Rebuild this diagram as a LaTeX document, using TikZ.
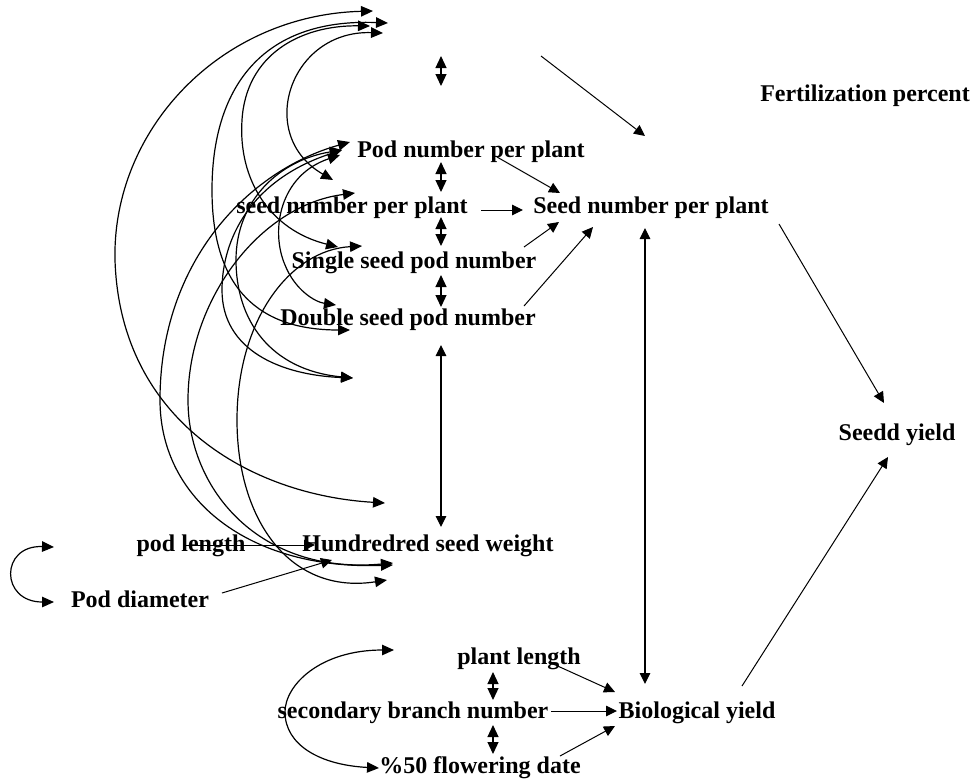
\documentclass[tikz,border=0pt]{standalone}
\usepackage{fontspec}
\setmainfont{Liberation Serif}
\usetikzlibrary{arrows.meta}
\begin{document}
\begin{tikzpicture}[x=1pt,y=-1pt,
  lbl/.style={font=\fontsize{24}{26}\selectfont\bfseries, inner sep=0pt, anchor=base},
  con/.style={line width=1pt, -{Triangle[length=11pt,width=10.5pt]}},
  bicon/.style={line width=1.2pt, {Triangle[length=11pt,width=10.5pt]}-{Triangle[length=11pt,width=10.5pt]}},
  shortbi/.style={line width=1.2pt, {Triangle[length=12pt,width=11pt]}-{Triangle[length=12pt,width=11pt]}},
  arc/.style={line width=1.2pt, {Triangle[length=12pt,width=10.5pt]}-{Triangle[length=12pt,width=10.5pt]}}]
\useasboundingbox (0,0) rectangle (974,780);

% text nodes
\node[lbl] (fert) at (865,101) {Fertilization percent};
\node[lbl] (pod) at (471,157) {Pod number per plant};
\node[lbl] (seedL) at (352,213) {seed number per plant};
\node[lbl] (seedR) at (651,213) {Seed number per plant};
\node[lbl] (single) at (414,268) {Single seed pod number};
\node[lbl] (double) at (408,325) {Double seed pod number};
\node[lbl] (yield) at (897,440) {Seedd yield};
\node[lbl] (podlen) at (191,551) {pod length};
\node[lbl] (hsw) at (428,551) {Hundredred seed weight};
\node[lbl] (poddia) at (140,607) {Pod diameter};
\node[lbl] (plantlen) at (519,664) {plant length};
\node[lbl] (branch) at (413,718) {secondary branch number};
\node[lbl] (bio) at (697,718) {Biological yield};
\node[lbl] (flower) at (480,773) {\%50 flowering date};

% connector end points
\coordinate (v1a) at (441,56);  \coordinate (v1b) at (441,86);
\coordinate (v2a) at (441,162); \coordinate (v2b) at (441,192);
\coordinate (v3a) at (441,217); \coordinate (v3b) at (441,246);
\coordinate (v4a) at (441,275); \coordinate (v4b) at (441,307);
\coordinate (v5a) at (441,345); \coordinate (v5b) at (441,527);
\coordinate (v6a) at (493,672); \coordinate (v6b) at (493,700);
\coordinate (v7a) at (493,725); \coordinate (v7b) at (493,754);
\coordinate (v8a) at (645,228); \coordinate (v8b) at (645,684);

\coordinate (topS) at (541,56);  \coordinate (topE) at (645,136);
\coordinate (podS) at (497,157); \coordinate (podE) at (560,193);
\coordinate (slS) at (481,210);  \coordinate (slE) at (523,210);
\coordinate (sgS) at (524,247);  \coordinate (sgE) at (559,222);
\coordinate (dbS) at (524,306);  \coordinate (dbE) at (593,227);
\coordinate (srS) at (779,224);  \coordinate (srE) at (884,403);
\coordinate (bioS) at (742,686); \coordinate (bioE) at (888,457);
\coordinate (plS) at (551,663);  \coordinate (plE) at (615,692);
\coordinate (brS) at (551,711);  \coordinate (brE) at (617,711);
\coordinate (flS) at (560,756);  \coordinate (flE) at (615,726);
\coordinate (lenS) at (183,545); \coordinate (lenE) at (315,545);
\coordinate (diaS) at (222,593); \coordinate (diaE) at (332,560);

% curve end points
\coordinate (t1) at (373,11);  \coordinate (t2) at (388,23);
\coordinate (t3) at (370,26);  \coordinate (t4) at (383,33);
\coordinate (p1) at (350,142); \coordinate (p2) at (342,150); \coordinate (p3) at (340,155);
\coordinate (s1) at (333,180); \coordinate (s2) at (355,193);
\coordinate (g1) at (338,247); \coordinate (g2) at (362,246);
\coordinate (d1) at (336,305); \coordinate (d2) at (350,330);
\coordinate (x1) at (353,378);
\coordinate (yy) at (385,503);
\coordinate (h1) at (393,565); \coordinate (h2) at (393,563); \coordinate (h3) at (387,580);
\coordinate (la) at (54,547);  \coordinate (lb) at (54,602);
\coordinate (ba) at (394,650); \coordinate (bb) at (379,768);

% short double arrows
\foreach \a/\b in {v1a/v1b, v2a/v2b, v3a/v3b, v4a/v4b, v6a/v6b, v7a/v7b}
  \draw[shortbi] (\a) -- (\b);
\draw[bicon] (v5a) -- (v5b);
\draw[bicon] (v8a) -- (v8b);

% straight arrows
\draw[con] (topS) -- (topE);
\draw[con] (podS) -- (podE);
\draw[con] (slS) -- (slE);
\draw[con] (sgS) -- (sgE);
\draw[con] (dbS) -- (dbE);
\draw[con] (srS) -- (srE);
\draw[con] (bioS) -- (bioE);
\draw[con] (plS) -- (plE);
\draw[con] (brS) -- (brE);
\draw[con] (flS) -- (flE);
\draw[con] (lenS) -- (lenE);
\draw[con] (diaS) -- (diaE);

% correlation arcs
\draw[arc] (yy) .. controls (250,495) and (120,420) .. (115,260) .. controls (112,130) and (220,15) .. (t1);
\draw[arc] (d2) .. controls (260,330) and (212,290) .. (212,190) .. controls (212,90) and (260,18) .. (t2);
\draw[arc] (g1) .. controls (270,230) and (238,180) .. (242,120) .. controls (246,55) and (300,25) .. (t3);
\draw[arc] (s1) .. controls (255,135) and (290,30) .. (t4);
\draw[arc] (p1) .. controls (250,170) and (160,260) .. (160,400) .. controls (160,500) and (250,570) .. (h1);
\draw[arc] (p2) .. controls (250,180) and (222,240) .. (222,290) .. controls (222,350) and (280,375) .. (x1);
\draw[arc] (p3) .. controls (280,175) and (270,230) .. (285,265) .. controls (295,290) and (315,302) .. (d1);
\draw[arc] (s2) .. controls (260,205) and (188,300) .. (188,400) .. controls (188,490) and (260,575) .. (h2);
\draw[arc] (g2) .. controls (290,250) and (237,320) .. (237,420) .. controls (237,520) and (290,595) .. (h3);
\draw[arc] (x1) .. controls (270,370) and (236,320) .. (236,260) .. controls (236,200) and (280,160) .. (p2);
\draw[arc] (la) .. controls (0,545) and (0,602) .. (lb);
\draw[arc] (ba) .. controls (320,650) and (285,685) .. (285,712) .. controls (285,745) and (320,765) .. (bb);
\end{tikzpicture}
\end{document}
